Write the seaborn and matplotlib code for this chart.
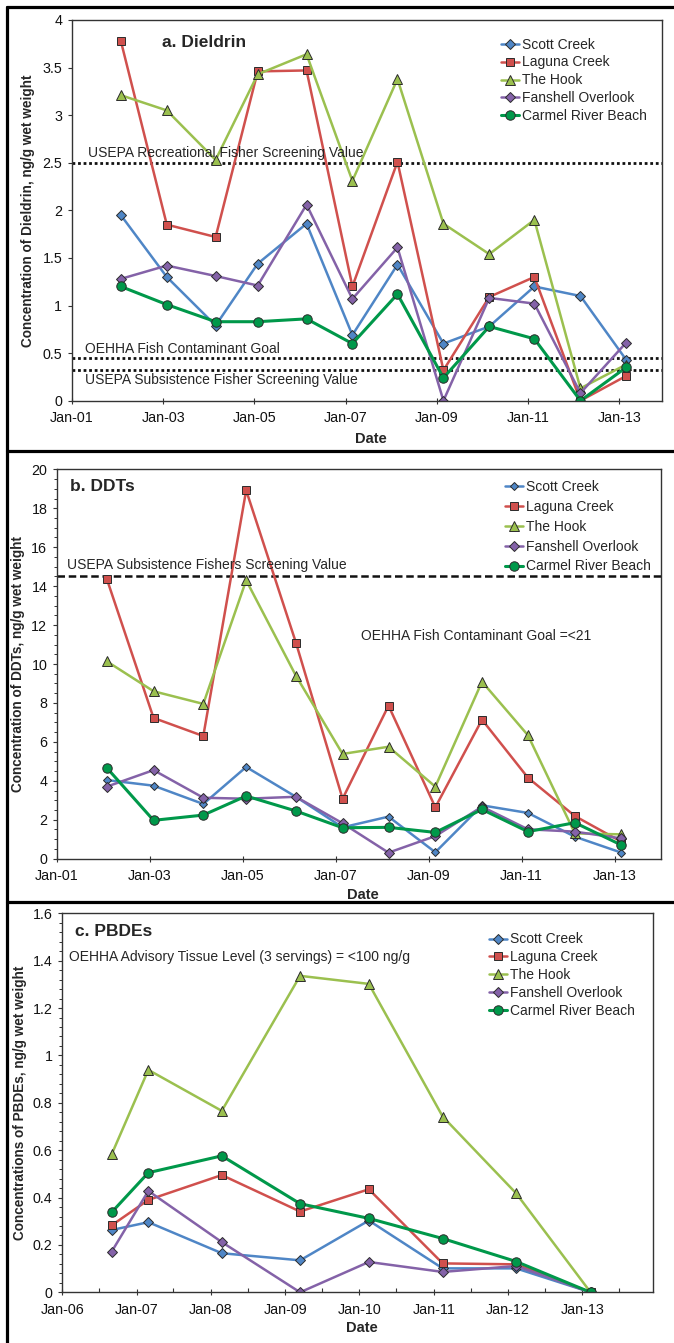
"""
    Three stacked panels of fish tissue contaminant concentrations
    (Dieldrin, DDTs, PBDEs) at five sampling sites.
"""
import matplotlib
matplotlib.use('Agg')
import matplotlib.pyplot as plt
import matplotlib.dates as mdates
from matplotlib.ticker import MultipleLocator, FixedLocator, FuncFormatter
from matplotlib.lines import Line2D
import seaborn as sns
import pandas as pd

# Sites and their styles
sites = ['Scott Creek', 'Laguna Creek', 'The Hook', 'Fanshell Overlook',
         'Carmel River Beach']
site_colors = ['#4f86c6', '#d0504d', '#9bc04f', '#8462a8', '#00984a']
site_markers = ['D', 's', '^', 'D', 'o']

# ---- a. Dieldrin / b. DDTs sample dates
dates_ab = ['2002-01-27', '2003-01-30', '2004-02-25', '2005-01-27',
            '2006-02-22', '2007-02-24', '2008-02-20', '2009-02-22',
            '2010-02-24', '2011-02-20', '2012-02-24', '2013-02-24']

dieldrin = {
    'Scott Creek': [1.95, 1.30, 0.79, 1.44, 1.86, 0.69, 1.43, 0.60, 0.78,
                    1.20, 1.10, 0.43],
    'Laguna Creek': [3.78, 1.85, 1.72, 3.46, 3.47, 1.20, 2.51, 0.32, 1.09,
                     1.30, 0.00, 0.26],
    'The Hook': [3.21, 3.05, 2.53, 3.43, 3.64, 2.31, 3.38, 1.86, 1.54,
                 1.90, 0.13, 0.38],
    'Fanshell Overlook': [1.28, 1.42, 1.31, 1.21, 2.06, 1.07, 1.61, 0.00,
                          1.08, 1.02, 0.08, 0.61],
    'Carmel River Beach': [1.20, 1.01, 0.83, 0.83, 0.86, 0.60, 1.12, 0.24,
                           0.78, 0.65, 0.00, 0.35],
}

ddts = {
    'Scott Creek': [4.04, 3.75, 2.81, 4.71, 3.18, 1.61, 2.16, 0.33, 2.74,
                    2.35, 1.13, 0.31],
    'Laguna Creek': [14.38, 7.23, 6.30, 18.92, 11.10, 3.08, 7.86, 2.64,
                     7.14, 4.16, 2.19, 0.87],
    'The Hook': [10.14, 8.60, 7.95, 14.30, 9.40, 5.38, 5.75, 3.70, 9.09,
                 6.34, 1.30, 1.25],
    'Fanshell Overlook': [3.70, 4.55, 3.13, 3.08, 3.18, 1.82, 0.31, 1.16,
                          2.67, 1.51, 1.39, 1.04],
    'Carmel River Beach': [4.67, 1.97, 2.24, 3.22, 2.45, 1.59, 1.61, 1.35,
                           2.53, 1.39, 1.85, 0.70],
}

# ---- c. PBDEs sample dates
dates_c = ['2006-09-01', '2007-02-28', '2008-02-24', '2009-03-15',
           '2010-02-16', '2011-02-14', '2012-02-10', '2013-02-10']

pbdes = {
    'Scott Creek': [0.263, 0.296, 0.165, 0.135, 0.303, 0.101, 0.101, 0.0],
    'Laguna Creek': [0.283, 0.390, 0.495, 0.341, 0.435, 0.122, 0.118, 0.0],
    'The Hook': [0.583, 0.939, 0.766, 1.336, 1.302, 0.742, 0.418, 0.0],
    'Fanshell Overlook': [0.172, 0.428, 0.212, 0.0, 0.128, 0.086, 0.111, 0.0],
    'Carmel River Beach': [0.338, 0.505, 0.576, 0.374, 0.312, 0.227, 0.130,
                           0.0],
}

# Screening values
dieldrin_rec = 2.5
dieldrin_oehha = 0.45
dieldrin_subs = 0.32
ddt_subs = 14.5

tick_years_ab = [2001, 2003, 2005, 2007, 2009, 2011, 2013]

sns.set_theme(style="ticks")
plt.rcParams['font.family'] = ['Liberation Sans', 'DejaVu Sans']
plt.rcParams['axes.edgecolor'] = '#333333'
plt.rcParams['xtick.color'] = '#333333'
plt.rcParams['ytick.color'] = '#333333'
plt.rcParams['xtick.labelcolor'] = '#111111'
plt.rcParams['ytick.labelcolor'] = '#111111'

W, H = 674, 1343
fig = plt.figure(figsize=(W / 100, H / 100), dpi=100)


def ax_at(left, top, right, bottom):
    # pixel box -> figure fraction
    return fig.add_axes([left / W, 1 - bottom / H, (right - left) / W,
                         (bottom - top) / H])


def draw_series(ax, dates, data, small_scott=False):
    d = pd.to_datetime(dates)
    for site, color, marker in zip(sites, site_colors, site_markers):
        df = pd.DataFrame({'Date': d, 'Value': data[site]})
        ms = 6
        lw = 1.8
        if marker == 'D':
            ms = 5
            if small_scott and site == 'Scott Creek':
                ms = 3.6
        if marker == 'o':
            ms = 6.8
            lw = 2.2
        if marker == '^':
            ms = 6.5
        sns.lineplot(data=df, x='Date', y='Value', ax=ax, color=color,
                     marker=marker, markersize=ms, markeredgecolor='#2b2b2b',
                     markeredgewidth=0.7, linewidth=lw, label=site)


def style_axes(ax, ylab, ylab_x, xlab_y):
    ax.set_xlabel('Date', fontsize=10.5, fontweight='bold')
    ax.set_ylabel(ylab, fontsize=9.8, fontweight='bold')
    ax.yaxis.set_label_coords(ylab_x, 0.5)
    ax.xaxis.set_label_coords(0.507, xlab_y)
    ax.tick_params(axis='both', labelsize=10.3, length=3, width=0.8, pad=4)
    ax.tick_params(axis='x', direction='inout', length=5, pad=5)
    ax.yaxis.set_major_formatter(FuncFormatter(lambda v, p: f'{v:g}'))
    for s in ax.spines.values():
        s.set_linewidth(1.0)
        s.set_visible(True)


def add_legend(ax, anchor, spacing):
    ax.legend(loc='upper left', bbox_to_anchor=anchor, frameon=False,
              fontsize=10, borderpad=0, handlelength=1.3, handletextpad=0.25,
              labelspacing=spacing)


# ---------------- a. Dieldrin ----------------
ax1 = ax_at(72, 20, 662, 400.7)
draw_series(ax1, dates_ab, dieldrin)
for yv in [dieldrin_rec, dieldrin_oehha, dieldrin_subs]:
    ax1.axhline(yv, color='#111111', linestyle=(0, (1, 1)), linewidth=2.0,
                zorder=1)
ax1.set_ylim(0, 4)
ax1.yaxis.set_major_locator(MultipleLocator(0.5))
ax1.set_xlim(pd.Timestamp('2001-01-01'), pd.Timestamp('2013-12-08'))
ax1.xaxis.set_major_locator(FixedLocator(
    mdates.date2num(pd.to_datetime([f'{y}-01-01' for y in tick_years_ab]))))
ax1.xaxis.set_major_formatter(mdates.DateFormatter('%b-%y'))
style_axes(ax1, 'Concentration of Dieldrin, ng/g wet weight', -0.062, -0.082)
add_legend(ax1, (0.715, 0.972), 0.28)
ax1.text(0.153, 0.94, 'a. Dieldrin', transform=ax1.transAxes, fontsize=12.5,
         fontweight='bold', va='center')
ax1.text(0.027, dieldrin_rec + 0.03, 'USEPA Recreational Fisher Screening Value',
         transform=ax1.get_yaxis_transform(), fontsize=10, va='bottom')
ax1.text(0.022, dieldrin_oehha + 0.02, 'OEHHA Fish Contaminant Goal',
         transform=ax1.get_yaxis_transform(), fontsize=10, va='bottom')
ax1.text(0.022, dieldrin_subs - 0.03, 'USEPA Subsistence Fisher Screening Value',
         transform=ax1.get_yaxis_transform(), fontsize=10, va='top')

# ---------------- b. DDTs ----------------
ax2 = ax_at(57, 469.3, 661, 858.7)
draw_series(ax2, dates_ab, ddts, small_scott=True)
ax2.axhline(ddt_subs, color='#111111', linestyle=(0, (3, 1.5)), linewidth=1.8,
            zorder=1)
ax2.set_ylim(0, 20)
ax2.yaxis.set_major_locator(MultipleLocator(2))
ax2.yaxis.set_minor_locator(MultipleLocator(0.5))
ax2.set_xlim(pd.Timestamp('2001-01-01'), pd.Timestamp('2014-01-01'))
ax2.xaxis.set_major_locator(FixedLocator(
    mdates.date2num(pd.to_datetime([f'{y}-01-01' for y in tick_years_ab]))))
ax2.xaxis.set_major_formatter(mdates.DateFormatter('%b-%y'))
style_axes(ax2, 'Concentration of DDTs, ng/g wet weight', -0.053, -0.075)
ax2.tick_params(axis='y', which='minor', length=2, width=0.7)
add_legend(ax2, (0.73, 0.99), 0.42)
ax2.text(0.022, 0.955, 'b. DDTs', transform=ax2.transAxes, fontsize=12.5,
         fontweight='bold', va='center')
ax2.text(0.017, ddt_subs + 0.25, 'USEPA Subsistence Fishers Screening Value',
         transform=ax2.get_yaxis_transform(), fontsize=10, va='bottom')
ax2.text(0.504, 11.45, 'OEHHA Fish Contaminant Goal =<21',
         transform=ax2.get_yaxis_transform(), fontsize=10, va='center')

# ---------------- c. PBDEs ----------------
ax3 = ax_at(62.3, 913.3, 652.6, 1292.3)
draw_series(ax3, dates_c, pbdes)
ax3.set_ylim(0, 1.6)
ax3.yaxis.set_major_locator(MultipleLocator(0.2))
ax3.yaxis.set_minor_locator(MultipleLocator(0.04))
ax3.set_xlim(pd.Timestamp('2006-01-01'), pd.Timestamp('2013-12-12'))
ax3.xaxis.set_major_locator(mdates.YearLocator(1))
ax3.xaxis.set_minor_locator(mdates.MonthLocator(bymonth=7))
ax3.xaxis.set_major_formatter(mdates.DateFormatter('%b-%y'))
style_axes(ax3, 'Concentrations of PBDEs, ng/g wet weight', -0.06, -0.076)
ax3.tick_params(axis='y', which='minor', length=2, width=0.7)
ax3.tick_params(axis='x', which='minor', direction='in', length=3, width=0.8)
add_legend(ax3, (0.711, 0.968), 0.28)
ax3.text(0.022, 0.951, 'c. PBDEs', transform=ax3.transAxes, fontsize=12.5,
         fontweight='bold', va='center')
ax3.text(0.011, 0.885, 'OEHHA Advisory Tissue Level (3 servings) = <100 ng/g',
         transform=ax3.transAxes, fontsize=10, va='center')

# Panel frames
frame_kw = dict(transform=fig.transFigure, color='black', linewidth=2.3)
fig.add_artist(Line2D([7 / W, 7 / W], [0, 1 - 6.5 / H], **frame_kw))
for yp in [6.5, 451, 902]:
    fig.add_artist(Line2D([7 / W, 1], [1 - yp / H, 1 - yp / H], **frame_kw))

fig.savefig('out.png', dpi=100, facecolor='white')
